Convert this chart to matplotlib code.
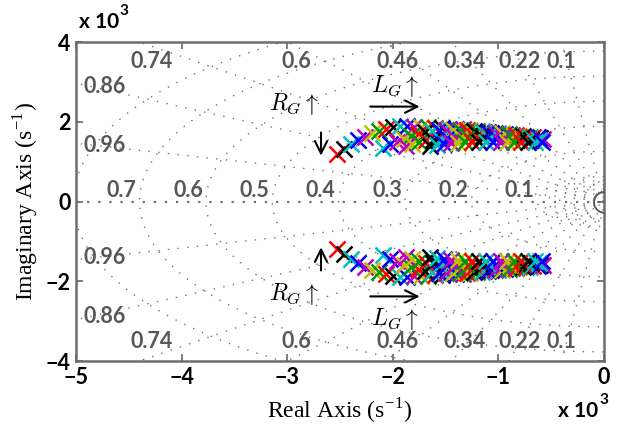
import numpy as np
import matplotlib
matplotlib.use("Agg")
import matplotlib.pyplot as plt
from matplotlib.ticker import FuncFormatter

plt.rcParams["mathtext.fontset"] = "cm"

# closed-loop poles (upper half plane), one list per sweep, in s^-1
chain1_re = [-2530, -2460, -2400, -2330, -2260, -2200, -2130, -2060, -2000, -1930,
             -1870, -1800, -1730, -1670, -1600, -1530, -1470, -1400, -1340, -1270,
             -1200, -1140, -1070, -1000, -940, -870, -810, -740, -670, -610]
chain1_im = [1200, 1320, 1440, 1540, 1630, 1710, 1780, 1830, 1870, 1890,
             1890, 1880, 1870, 1860, 1850, 1840, 1830, 1820, 1810, 1790,
             1770, 1750, 1730, 1710, 1690, 1670, 1650, 1630, 1610, 1600]
chain2_re = [-2090, -2030, -1960, -1890, -1830, -1760, -1700, -1630, -1560, -1500,
             -1430, -1360, -1300, -1230, -1160, -1100, -1030, -970, -900, -830,
             -770, -700, -630, -580]
chain2_im = [1350, 1430, 1500, 1580, 1650, 1700, 1750, 1780, 1800, 1800,
             1800, 1800, 1790, 1780, 1770, 1750, 1730, 1710, 1690, 1670,
             1650, 1630, 1610, 1580]
chain3_re = [-1880, -1820, -1750, -1690, -1620, -1550, -1490, -1420, -1350, -1290,
             -1220, -1160, -1090, -1020, -960, -890, -820, -760, -690, -620]
chain3_im = [1380, 1430, 1480, 1530, 1550, 1580, 1600, 1610, 1610, 1610,
             1610, 1610, 1600, 1600, 1590, 1580, 1570, 1560, 1550, 1540]
chain4_re = [-1650, -1580, -1520, -1450, -1380, -1320, -1250, -1180, -1120, -1050,
             -980, -920, -850, -790, -720, -650, -590]
chain4_im = [1400, 1420, 1440, 1460, 1470, 1480, 1490, 1490, 1500, 1500,
             1500, 1490, 1490, 1490, 1490, 1480, 1480]

chains = [(chain1_re, chain1_im, 0), (chain2_re, chain2_im, 2),
          (chain3_re, chain3_im, 4), (chain4_re, chain4_im, 1)]
pole_colors = ["#ff0000", "#000000", "#00bfbf", "#0000ff", "#bf00bf", "#bfbf00", "#009900"]

# s-plane grid
zeta_values = [0.1, 0.22, 0.34, 0.46, 0.6, 0.74, 0.86, 0.96]
wn_khz = [0.1, 0.2, 0.3, 0.4, 0.5, 0.6, 0.7, 0.8]
wn_small = [105, 210, 315, 420, 525]
zeta_label_pos = {0.74: (-4280, 3500), 0.6: (-2910, 3500), 0.46: (-1950, 3500),
                  0.34: (-1320, 3500), 0.22: (-800, 3500), 0.1: (-400, 3500),
                  0.86: (-4730, 2880), 0.96: (-4730, 1400)}

fig = plt.figure(figsize=(6.17, 4.34), dpi=100)
ax = fig.add_axes([0.1232, 0.1682, 0.8558, 0.735])

grid_kw = dict(color="#707070", lw=1.0, ls=(0, (1, 6)), zorder=1)
for z in zeta_values:
    r = np.array([0, 8000])
    ax.plot(-r * z, r * np.sqrt(1 - z ** 2), **grid_kw)
    ax.plot(-r * z, -r * np.sqrt(1 - z ** 2), **grid_kw)
t = np.linspace(np.pi / 2, 3 * np.pi / 2, 400)
for f in wn_khz:
    r = f * 2 * np.pi * 1000
    ax.plot(r * np.cos(t), r * np.sin(t), **grid_kw)
for r in wn_small:
    ax.plot(r * np.cos(t), r * np.sin(t), **grid_kw)
ax.plot([-5000, 0], [0, 0], color="#707070", lw=1.6, ls=(0, (1, 4)), zorder=1)

lab_kw = dict(color="#585858", fontsize=15.5, fontweight="bold", family="Lato",
              ha="center", va="center", zorder=2)
for z, (x, y) in zeta_label_pos.items():
    ax.text(x, y, f"{z:g}", **lab_kw)
    ax.text(x, -y, f"{z:g}", **lab_kw)
for f in wn_khz[:-1]:
    r = f * 2 * np.pi * 1000
    ax.text(-r - 170, 280, f"{f:g}", **lab_kw)

# pole clusters and their conjugates
for re, im, off in chains:
    for k, (x, y) in enumerate(zip(re, im)):
        c = pole_colors[(k + off) % len(pole_colors)]
        ax.plot(x, y, "x", color=c, ms=11, mew=1.8, zorder=3)
        ax.plot(x, -y, "x", color=c, ms=11, mew=1.8, zorder=3)

ax.plot(0, 0, "o", mfc="none", mec="#555555", ms=15, mew=1.2, zorder=3)

# parameter-direction arrows
arr = dict(arrowstyle="->", lw=1.5, color="k", mutation_scale=22)
for s in (1, -1):
    ax.annotate("", xy=(-2680, s * 1080), xytext=(-2680, s * 1800), arrowprops=arr)
    ax.annotate("", xy=(-1720, s * 2380), xytext=(-2240, s * 2380), arrowprops=arr)
ax.text(-2940, 2450, r"$R_G\uparrow$", fontsize=17, ha="center", va="center")
ax.text(-2940, -2330, r"$R_G\uparrow$", fontsize=17, ha="center", va="center")
ax.text(-1980, 2900, r"$L_G\uparrow$", fontsize=17, ha="center", va="center")
ax.text(-1980, -2950, r"$L_G\uparrow$", fontsize=17, ha="center", va="center")

ax.set_xlim(-5000, 0)
ax.set_ylim(-4000, 4000)
ax.set_xticks([-5000, -4000, -3000, -2000, -1000, 0])
ax.set_yticks([-4000, -2000, 0, 2000, 4000])
fmt = FuncFormatter(lambda v, p: f"{v / 1000:g}".replace("-", "\u2212"))
ax.xaxis.set_major_formatter(fmt)
ax.yaxis.set_major_formatter(fmt)
ax.tick_params(direction="in", length=5, width=1.2, color="#666666",
               top=True, right=True, labelsize=15.5, pad=4)
for lbl in ax.get_xticklabels() + ax.get_yticklabels():
    lbl.set_fontweight("bold")
    lbl.set_family("Lato")
for sp in ax.spines.values():
    sp.set_color("#6d6d6d")
    sp.set_linewidth(1.8)

ax.set_xlabel("Real Axis (s$^{\\mathregular{-1}}$)", family="Liberation Serif", fontsize=17, labelpad=6)
ax.set_ylabel("Imaginary Axis (s$^{\\mathregular{-1}}$)", family="Liberation Serif", fontsize=17, labelpad=4)

for (x, y) in [(0.128, 0.935), (0.905, 0.04)]:
    fig.text(x, y, "x 10", fontsize=15, fontweight="bold", family="Lato", va="baseline")
    fig.text(x + 0.066, y + 0.03, "3", fontsize=11, fontweight="bold", family="Lato", va="baseline")

fig.savefig("out.png", dpi=100)
